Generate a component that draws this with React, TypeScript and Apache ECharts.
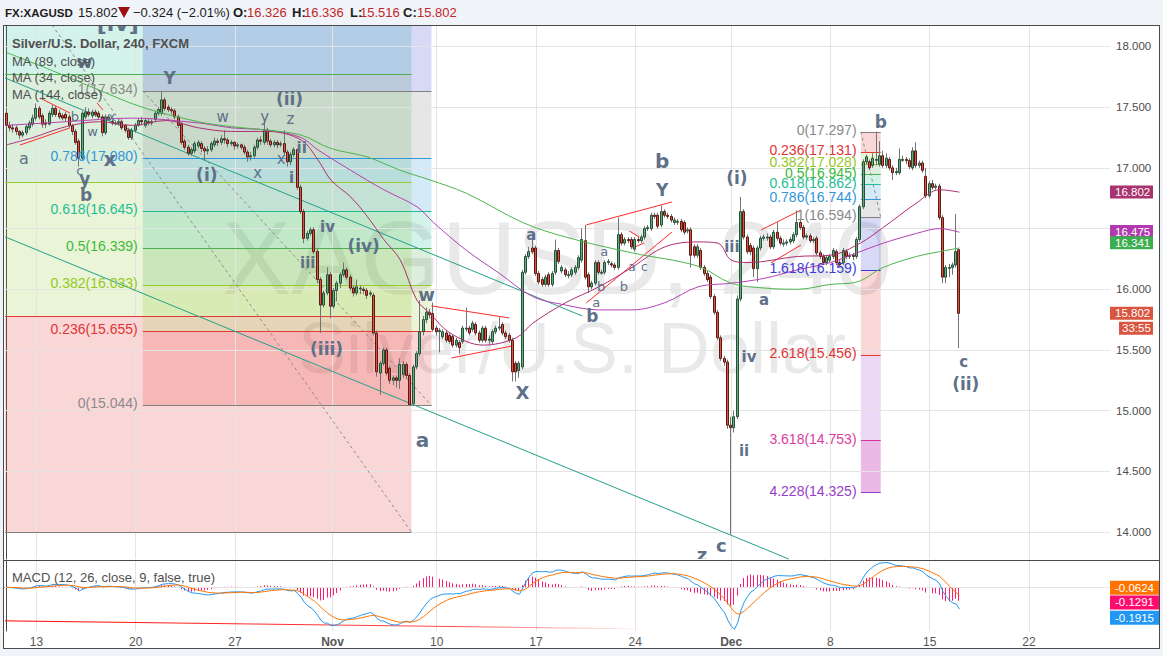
import React, { useEffect, useRef } from "react";
import * as echarts from "echarts";

// ---------- 4h candles [open, close, low, high] ----------
const wk0 = [
  [17.45,17.35,17.32,17.48],[17.35,17.33,17.30,17.38],[17.33,17.32,17.29,17.36],[17.33,17.30,17.27,17.35],
  [17.30,17.27,17.24,17.31],[17.27,17.29,17.25,17.31],[17.29,17.34,17.27,17.36],[17.33,17.37,17.31,17.39],
  [17.36,17.41,17.34,17.44],
];
const wk1 = [
  [17.41,17.49,17.39,17.53],[17.49,17.42,17.40,17.51],[17.43,17.36,17.33,17.45],[17.37,17.36,17.33,17.40],
  [17.36,17.45,17.35,17.47],[17.44,17.49,17.42,17.52],[17.49,17.44,17.42,17.51],[17.45,17.42,17.40,17.48],
  [17.43,17.41,17.39,17.45],[17.44,17.41,17.38,17.46],[17.42,17.35,17.33,17.44],[17.35,17.30,17.27,17.36],
  [17.30,17.21,17.19,17.32],[17.22,17.08,17.01,17.24],[17.08,17.45,17.06,17.47],[17.42,17.46,17.40,17.50],
  [17.46,17.44,17.42,17.49],[17.43,17.46,17.41,17.48],[17.46,17.44,17.42,17.48],[17.45,17.42,17.40,17.47],
  [17.42,17.29,17.26,17.44],[17.29,17.42,17.27,17.44],[17.40,17.42,17.39,17.44],[17.38,17.37,17.35,17.40],
  [17.37,17.37,17.35,17.39],[17.37,17.38,17.35,17.40],[17.38,17.33,17.31,17.40],[17.35,17.31,17.29,17.36],
  [17.31,17.25,17.23,17.33],[17.25,17.31,17.23,17.33],
];
const wk2 = [
  [17.31,17.35,17.29,17.37],[17.35,17.39,17.34,17.41],[17.39,17.38,17.35,17.42],[17.35,17.39,17.33,17.41],
  [17.38,17.37,17.35,17.41],[17.37,17.38,17.35,17.40],[17.40,17.45,17.38,17.47],[17.45,17.48,17.43,17.50],
  [17.45,17.56,17.43,17.63],[17.56,17.49,17.47,17.58],[17.50,17.48,17.46,17.52],[17.48,17.47,17.44,17.50],
  [17.47,17.42,17.40,17.49],[17.42,17.35,17.33,17.44],[17.36,17.21,17.19,17.38],[17.22,17.17,17.15,17.24],
  [17.17,17.12,17.10,17.19],[17.12,17.15,17.10,17.17],[17.14,17.20,17.12,17.22],[17.18,17.21,17.16,17.23],
  [17.20,17.16,17.13,17.22],[17.16,17.14,17.06,17.18],[17.14,17.15,17.11,17.18],[17.15,17.20,17.13,17.22],
  [17.19,17.22,17.17,17.25],[17.22,17.21,17.18,17.24],[17.21,17.24,17.19,17.27],[17.24,17.23,17.20,17.31],
  [17.23,17.20,17.17,17.25],[17.20,17.21,17.18,17.23],
];
const wk3 = [
  [17.21,17.18,17.15,17.22],[17.18,17.19,17.16,17.21],[17.19,17.17,17.15,17.20],[17.17,17.13,17.11,17.19],
  [17.13,17.09,17.05,17.15],[17.09,17.10,17.06,17.13],[17.10,17.17,17.08,17.19],[17.17,17.23,17.15,17.25],
  [17.23,17.22,17.19,17.26],[17.21,17.31,17.19,17.38],[17.31,17.22,17.19,17.33],[17.22,17.19,17.17,17.24],
  [17.19,17.21,17.17,17.23],[17.21,17.19,17.16,17.23],[17.19,17.20,17.17,17.22],[17.20,17.13,17.10,17.31],
  [17.13,17.05,17.01,17.15],[17.05,17.11,17.02,17.13],[17.11,17.15,17.09,17.17],[17.15,16.84,16.82,17.16],
  [16.84,16.64,16.62,16.86],[16.64,16.42,16.38,16.66],[16.42,16.46,16.40,16.48],[16.46,16.49,16.44,16.51],
  [16.49,16.31,16.29,16.51],[16.31,16.08,16.05,16.33],[16.08,15.87,15.64,16.10],[15.87,15.97,15.85,15.99],
  [15.97,16.12,15.95,16.18],[16.12,15.86,15.76,16.14],
];
const wk4 = [
  [15.86,15.99,15.84,16.01],[15.99,16.05,15.90,16.07],[16.05,16.12,16.01,16.14],[16.12,16.16,16.10,16.22],
  [16.16,16.10,16.08,16.18],[16.10,16.01,15.99,16.12],[16.01,15.97,15.94,16.03],[15.97,16.02,15.95,16.08],
  [16.01,16.01,15.96,16.03],[16.00,15.99,15.96,16.02],[15.99,15.95,15.92,16.01],[15.96,15.97,15.94,15.99],
  [15.95,15.64,15.62,15.97],[15.64,15.32,15.28,15.66],[15.31,15.39,15.13,15.41],[15.39,15.50,15.37,15.52],
  [15.50,15.31,15.29,15.52],[15.35,15.25,15.22,15.37],[15.25,15.27,15.21,15.29],[15.27,15.25,15.19,15.29],
  [15.25,15.38,15.18,15.43],[15.30,15.38,15.27,15.41],[15.38,15.29,15.26,15.40],[15.29,15.05,15.044,15.31],
  [15.06,15.36,15.05,15.38],[15.36,15.47,15.34,15.49],[15.47,15.65,15.45,15.91],[15.65,15.75,15.62,15.78],
  [15.75,15.81,15.72,15.85],[15.81,15.79,15.76,15.84],
];
const wk5 = [
  [15.80,15.67,15.65,15.89],[15.68,15.65,15.62,15.70],[15.65,15.66,15.48,15.68],[15.61,15.65,15.59,15.67],
  [15.64,15.58,15.56,15.66],[15.62,15.57,15.55,15.64],[15.61,15.54,15.52,15.63],[15.54,15.58,15.52,15.60],
  [15.56,15.52,15.47,15.58],[15.57,15.68,15.55,15.70],[15.68,15.68,15.65,15.85],[15.68,15.64,15.62,15.70],
  [15.67,15.72,15.65,15.74],[15.71,15.64,15.62,15.73],[15.64,15.58,15.56,15.66],[15.58,15.68,15.56,15.70],
  [15.68,15.58,15.56,15.70],[15.58,15.59,15.55,15.62],[15.57,15.65,15.55,15.67],[15.65,15.68,15.63,15.70],
  [15.68,15.69,15.66,15.77],[15.71,15.64,15.62,15.73],[15.64,15.61,15.59,15.66],[15.62,15.58,15.56,15.64],
  [15.58,15.32,15.24,15.60],[15.39,15.32,15.24,15.41],[15.33,15.39,15.27,15.41],[15.36,16.14,15.34,16.16],
  [16.14,16.27,16.12,16.29],[16.27,16.31,16.25,16.35],
];
const wk6 = [
  [16.34,16.31,16.29,16.45],[16.34,16.13,16.11,16.36],[16.13,16.06,16.04,16.15],[16.08,16.04,16.02,16.10],
  [16.04,16.10,16.02,16.12],[16.12,16.04,16.02,16.14],[16.04,16.13,16.02,16.15],[16.14,16.32,16.12,16.41],
  [16.32,16.23,16.21,16.34],[16.15,16.18,16.13,16.20],[16.16,16.12,16.10,16.18],[16.12,16.12,16.09,16.15],
  [16.12,16.16,16.10,16.18],[16.14,16.18,16.12,16.20],[16.18,16.26,16.16,16.28],[16.24,16.41,16.22,16.50],
  [16.40,16.10,16.08,16.53],[16.12,16.02,15.97,16.14],[16.02,16.05,16.00,16.07],[16.05,16.22,16.03,16.24],
  [16.22,16.14,16.12,16.24],[16.14,16.14,16.12,16.16],[16.14,16.22,16.12,16.24],[16.22,16.23,16.20,16.25],
  [16.21,16.20,16.18,16.23],[16.20,16.18,16.16,16.22],[16.18,16.45,16.16,16.59],[16.45,16.38,16.36,16.47],
  [16.38,16.41,16.36,16.43],[16.41,16.40,16.38,16.43],
];
const wk7 = [
  [16.41,16.35,16.33,16.43],[16.33,16.41,16.31,16.43],[16.41,16.40,16.38,16.43],[16.40,16.43,16.38,16.45],
  [16.43,16.50,16.41,16.52],[16.50,16.51,16.48,16.53],[16.50,16.61,16.48,16.63],[16.61,16.60,16.58,16.63],
  [16.61,16.52,16.50,16.63],[16.53,16.64,16.51,16.69],[16.64,16.61,16.59,16.66],[16.61,16.60,16.58,16.63],
  [16.60,16.57,16.55,16.62],[16.55,16.57,16.53,16.59],[16.56,16.56,16.53,16.58],[16.56,16.49,16.47,16.58],
  [16.55,16.47,16.45,16.57],[16.48,16.49,16.46,16.51],[16.49,16.28,16.18,16.51],[16.35,16.28,16.26,16.37],
  [16.28,16.35,16.26,16.37],[16.32,16.18,16.16,16.34],[16.18,16.13,16.11,16.20],[16.13,16.08,16.06,16.15],
  [16.10,15.94,15.92,16.12],[15.94,15.81,15.79,15.96],[15.81,15.60,15.58,15.83],[15.60,15.43,15.41,15.62],
  [15.43,15.40,15.37,15.45],[15.40,14.88,14.85,15.42],
];
const wk8 = [
  [14.88,14.86,13.98,14.95],[14.86,14.95,14.82,15.00],[14.95,15.92,14.93,15.95],[15.92,16.64,15.90,16.76],
  [16.64,16.43,16.41,16.66],[16.43,16.31,16.29,16.45],[16.36,16.31,16.28,16.38],[16.34,16.17,16.10,16.36],
  [16.17,16.34,16.06,16.36],[16.34,16.42,16.32,16.44],[16.42,16.43,16.40,16.45],[16.43,16.43,16.40,16.46],
  [16.43,16.35,16.33,16.45],[16.35,16.47,16.33,16.49],[16.47,16.42,16.40,16.55],[16.42,16.38,16.36,16.44],
  [16.38,16.38,16.35,16.41],[16.38,16.39,16.36,16.41],[16.39,16.41,16.37,16.43],[16.40,16.45,16.38,16.47],
  [16.45,16.55,16.43,16.65],[16.55,16.51,16.49,16.57],[16.51,16.43,16.41,16.53],[16.43,16.44,16.41,16.46],
  [16.44,16.40,16.38,16.46],[16.40,16.41,16.38,16.43],[16.42,16.30,16.28,16.44],[16.30,16.27,16.25,16.32],
  [16.27,16.22,16.20,16.29],[16.22,16.26,16.20,16.28],
];
const wk9 = [
  [16.24,16.27,16.22,16.29],[16.27,16.32,16.25,16.34],[16.31,16.22,16.20,16.33],[16.22,16.20,16.18,16.24],
  [16.22,16.32,16.20,16.34],[16.31,16.27,16.25,16.33],[16.27,16.28,16.25,16.30],[16.28,16.27,16.24,16.30],
  [16.27,16.41,16.25,16.43],[16.41,16.68,16.39,16.70],[16.68,17.05,16.66,17.07],[17.05,17.09,17.03,17.11],
  [17.05,17.00,16.98,17.07],[17.02,17.08,17.00,17.12],[17.07,17.07,17.02,17.297],[17.03,17.10,17.01,17.22],
  [17.10,17.02,17.00,17.14],[17.02,17.08,17.00,17.12],[17.07,17.00,16.98,17.09],[17.00,16.96,16.90,17.02],
  [16.96,16.97,16.94,17.00],[16.96,17.07,16.94,17.16],[17.07,17.07,17.05,17.10],[17.07,17.06,17.03,17.09],
  [17.06,17.01,16.99,17.08],[17.00,17.14,16.98,17.17],[17.14,17.02,17.00,17.21],[17.02,17.04,17.00,17.06],
  [17.04,16.98,16.96,17.06],[16.93,16.77,16.75,17.00],
];
const wk10 = [
  [16.77,16.87,16.75,16.89],[16.87,16.84,16.82,16.90],[16.84,16.85,16.82,16.87],[16.85,16.59,16.57,16.87],
  [16.59,16.10,16.05,16.61],[16.10,16.18,16.05,16.20],[16.18,16.18,16.10,16.21],[16.18,16.20,16.12,16.22],
  [16.20,16.31,16.18,16.62],[16.326,15.802,15.516,16.336],
];
const candles = [...wk0, ...wk1, ...wk2, ...wk3, ...wk4, ...wk5, ...wk6, ...wk7, ...wk8, ...wk9, ...wk10];
const closes = candles.map((c) => c[1]);

// ---------- moving averages: [barIndex, value] ----------
const ma34 = [[0,17.19],[8,17.25],[18,17.34],[28,17.38],[38,17.35],[48,17.39],[58,17.33],[68,17.30],[79,17.30],[89,17.23],[94,17.07],[98,16.90],[104,16.76],[109,16.60],[114,16.41],[119,16.24],[124,15.91],[128,15.80],[134,15.64],[144,15.54],[154,15.60],[159,15.72],[169,15.89],[179,16.02],[189,16.18],[199,16.35],[209,16.39],[215,16.38],[219,16.24],[224,16.22],[239,16.27],[249,16.28],[258,16.38],[265,16.51],[275,16.71],[282,16.82],[288,16.80]];
const ma89 = [[0,17.35],[18,17.38],[38,17.41],[58,17.37],[68,17.33],[79,17.31],[89,17.25],[94,17.15],[104,16.98],[114,16.82],[124,16.68],[129,16.55],[139,16.32],[149,16.13],[159,15.94],[169,15.87],[179,15.83],[189,15.83],[199,15.89],[209,16.02],[219,16.05],[229,16.09],[239,16.16],[249,16.22],[257,16.30],[265,16.38],[275,16.46],[282,16.50],[288,16.47]];
const ma144 = [[0,17.95],[13,17.81],[28,17.64],[41,17.50],[58,17.38],[68,17.34],[79,17.31],[89,17.27],[98,17.16],[109,17.09],[119,16.98],[128,16.90],[139,16.79],[156,16.55],[169,16.43],[189,16.30],[209,16.19],[219,16.05],[229,16.01],[239,16.00],[249,16.04],[257,16.06],[265,16.18],[275,16.27],[282,16.31],[288,16.34]];

// ---------- axes ----------
const priceTicks = [14, 14.5, 15, 15.5, 16, 16.5, 17, 17.5, 18];
const dateTickPos = [9, 39, 69, 98.5, 130, 160, 190, 219, 249, 279, 309];
const dateTickLabels = ["13", "20", "27", "Nov", "10", "17", "24", "Dec", "8", "15", "22"];
const boldDateLabels = ["Nov", "Dec"];

// ---------- fibonacci tools: [ratio, price, colorKey] ----------
const fibLeftLevels = [[0,15.044,"gray"],[0.236,15.655,"red"],[0.382,16.033,"yg"],[0.5,16.339,"green"],[0.618,16.645,"teal"],[0.786,17.080,"blue"],[1,17.634,"gray"],[1.618,19.235,"indigo"]];
const fibBackLevels = [[0,14.0,"gray"],[0.236,15.78,"red"],[0.382,16.88,"yg"],[0.5,17.77,"green"],[0.618,18.66,"teal"]];
const fibRightLevels = [[0,17.297,"gray"],[0.236,17.131,"red"],[0.382,17.028,"yg"],[0.5,16.945,"green"],[0.618,16.862,"teal"],[0.786,16.744,"blue"],[1,16.594,"gray"],[1.618,16.159,"indigo"],[2.618,15.456,"red"],[3.618,14.753,"pink"],[4.228,14.325,"purple"]];

// ---------- wave labels: [text, barIndex, price, size, bold] ----------
const waveLabels = [
  ["a",5.2,17.08,16,0],["b",20.6,17.42,13,0],["c",22.1,16.98,13,0],["y",23.6,16.91,17,1],["b",24.0,16.78,17,1],
  ["x",31.2,17.07,20,1],["w",26.0,17.30,13,0],["x",31.8,17.42,12,0],["w",23.6,17.87,17,1],["[iv]",33.6,18.19,22,1],
  ["Y",49.3,17.74,17,1],["(ii)",85.5,17.57,17,1],["w",65.3,17.42,15,0],["y",78.0,17.42,15,0],["z",85.8,17.40,15,0],
  ["(i)",60.5,16.94,17,1],["x",75.9,16.96,15,0],["x",83.0,17.07,15,0],["ii",89.2,17.16,15,1],["i",86.1,16.92,15,1],
  ["iv",97.0,16.51,15,1],["(iv)",107.9,16.36,17,1],["iii",91.0,16.22,15,1],["(iii)",96.7,15.51,17,1],
  ["w",126.9,15.96,18,1],["a",125.7,14.76,20,1],["X",155.9,15.15,18,1],["a",158.6,16.45,15,1],
  ["a",180.6,16.31,13,0],["b",179.7,16.02,13,0],["b",186.6,16.02,13,0],["a",178.2,15.89,13,0],["b",177.0,15.78,17,1],
  ["a",189.0,16.18,12,0],["c",192.7,16.18,12,0],["b",198.1,17.06,20,1],["Y",198.1,16.82,17,1],
  ["(i)",220.7,16.92,17,1],["iii",219.2,16.35,15,1],["a",228.9,15.91,15,1],["iv",224.4,15.44,15,1],["ii",222.9,14.67,15,1],
  ["c",216.0,13.89,18,1],["z",210.2,13.815,18,1],["b",264.2,17.38,17,1],["c",289.3,15.40,15,1],["(ii)",289.9,15.22,17,1],
];

// ---------- trend lines: [i1, p1, i2, p2, kind] ----------
const trendLines = [
  [-0.5,17.741,173.96,15.780,"teal"],
  [-0.5,16.432,236.4,13.778,"teal"],
  [13.7,18.177,122.35,14.0,"dash"],
  [41.15,17.634,128.4,15.044,"dash"],
  [258.2,17.297,264.2,16.594,"dash"],
  [10.1,17.575,19.1,17.452,"red"],
  [4.0,17.188,19.1,17.329,"red"],
  [27.3,17.535,29.1,17.477,"red"],
  [128.4,15.863,151.9,15.764,"red"],
  [134.4,15.434,152.8,15.533,"red"],
  [175.2,16.530,201.1,16.719,"red"],
  [175.2,15.887,201.1,16.472,"red"],
  [188.2,16.480,191.2,16.431,"red"],
  [189.1,16.340,192.7,16.381,"red"],
  [228.0,16.488,240.1,16.653,"red"],
  [231.0,16.217,240.1,16.365,"red"],
];

// ---------- last-value badges ----------
const priceBadges = [["16.802",16.802,"#a8336e",0],["16.475",16.475,"#b13aae",0],["16.341",16.341,"#3dae4f",-5],["15.802",15.802,"#d9553f",0]];
const countdown = ["33:55", 15.802, "#d9553f", 15];
const macdBadges = [["-0.0624",-0.0624,"#ff7400",-7],["-0.1291",-0.1291,"#ff0b6e",0],["-0.1915",-0.1915,"#2196f3",8]];

// ---------- styling ----------
const RGB: any = {
  gray: [128,128,128], red: [229,57,53], yg: [152,200,50], green: [76,175,80], teal: [31,191,149],
  blue: [47,150,216], indigo: [58,58,216], pink: [216,54,156], purple: [154,59,200],
};
const TXT: any = {
  gray: "#8a8a8a", red: "#e03434", yg: "#94c828", green: "#3cba3c", teal: "#23be96",
  blue: "#3296d7", indigo: "#3c3cd7", pink: "#dc3ca0", purple: "#963cc8",
};
const rgba = (k: string, a: number) => `rgba(${RGB[k][0]},${RGB[k][1]},${RGB[k][2]},${a})`;
const SANS = '"Liberation Sans", Arial, sans-serif';
const LBL = '"DejaVu Sans", Verdana, sans-serif';
const N_SLOTS = 334;

function ema(src: number[], n: number) {
  const k = 2 / (n + 1);
  let prev = src[0];
  return src.map((v, i) => (prev = i === 0 ? v : v * k + prev * (1 - k)));
}

function buildOption() {
  const e12 = ema(closes, 12);
  const e26 = ema(closes, 26);
  const macd = closes.map((_, i) => e12[i] - e26[i]);
  const signal = ema(macd, 9);
  const hist = macd.map((m, i) => m - signal[i]);

  const bands = (levels: any[], x1: number, x2: number, override?: any) =>
    levels.slice(0, -1).map((lv, k) => {
      const nx = levels[k + 1];
      const color = override && override[k] ? override[k] : rgba(nx[2], 0.2);
      return [{ coord: [x1, Math.min(lv[1], nx[1])], itemStyle: { color } }, { coord: [x2, Math.max(lv[1], nx[1])] }];
    });
  const levelLines = (levels: any[], x1: number, x2: number) =>
    levels.map((lv) => [{ coord: [x1, lv[1]], lineStyle: { color: rgba(lv[2], 1), width: 1, type: "solid" } }, { coord: [x2, lv[1]] }]);

  const fibAX = [41.15, 128.4];
  const fibBX = [-0.5, 122.35];
  const fibCX = [258.2, 264.2];

  const fibTexts: any[] = [];
  fibLeftLevels.forEach((lv) => fibTexts.push([`${lv[0]}(${(lv[1] as number).toFixed(3)})`, 39.6, lv[1], TXT[lv[2] as string]]));
  fibRightLevels.forEach((lv) => fibTexts.push([`${lv[0]}(${(lv[1] as number).toFixed(3)})`, 256.9, lv[1], TXT[lv[2] as string]]));

  const trendData = trendLines.map((t) => {
    const kind = t[4];
    const ls =
      kind === "teal" ? { color: "#22a08a", width: 1, type: "solid" } :
      kind === "red" ? { color: "#ff2a2a", width: 1, type: "solid" } :
      { color: "#8c8c8c", width: 1, type: [3, 3] };
    return [{ coord: [t[0], t[1]], lineStyle: ls }, { coord: [t[2], t[3]] }];
  });

  const gridLineStyle = { color: "#e4e4e4", width: 1, type: "solid" };
  const noLabel = { show: false };

  const textSeries = (items: any[], render: (it: any, p: number[]) => any, xi: number, yi: number, z: number, clip: boolean) => ({
    type: "custom", xAxisIndex: xi, yAxisIndex: yi, z, clip, silent: true,
    data: items.map((it) => [it[1], it[2]]),
    encode: { x: 0, y: 1 },
    renderItem: (params: any, api: any) => {
      const p = api.coord([api.value(0), api.value(1)]);
      return render(items[params.dataIndex], p);
    },
  });

  const helper = (xi: number, yi: number, z: number, extra: any) => ({
    type: "line", xAxisIndex: xi, yAxisIndex: yi, data: [[-100, -100]], showSymbol: false,
    lineStyle: { opacity: 0 }, z, silent: true, ...extra,
  });

  const series: any[] = [
    helper(0, 0, 1, {
      markLine: {
        silent: true, symbol: ["none", "none"], label: noLabel, lineStyle: gridLineStyle, animation: false,
        data: [...priceTicks.map((v) => ({ yAxis: v })), ...dateTickPos.map((v) => ({ xAxis: v }))],
      },
    }),
    helper(1, 1, 1, {
      markLine: {
        silent: true, symbol: ["none", "none"], label: noLabel, lineStyle: gridLineStyle, animation: false,
        data: [{ yAxis: 0 }, ...dateTickPos.map((v) => ({ xAxis: v }))],
      },
    }),
    helper(0, 0, 2, {
      markArea: {
        silent: true, label: noLabel, animation: false,
        data: [
          ...bands(fibBackLevels, fibBX[0], fibBX[1]),
          ...bands(fibLeftLevels, fibAX[0], fibAX[1]),
          ...bands(fibRightLevels, fibCX[0], fibCX[1], { 8: "rgba(150,60,205,0.2)", 9: "rgba(200,70,190,0.38)" }),
        ],
      },
    }),
    helper(0, 0, 3, {
      markLine: {
        silent: true, symbol: ["none", "none"], label: noLabel, animation: false,
        data: [
          ...levelLines(fibBackLevels, fibBX[0], fibBX[1]),
          ...levelLines(fibLeftLevels, fibAX[0], fibAX[1]),
          ...levelLines(fibRightLevels, fibCX[0], fibCX[1]),
          ...trendData,
        ],
      },
    }),
    // candles
    {
      type: "custom", xAxisIndex: 0, yAxisIndex: 0, z: 5, clip: true, silent: true,
      data: candles.map((c, i) => [i, c[0], c[1], c[2], c[3]]),
      encode: { x: 0, y: [1, 2, 3, 4] },
      renderItem: (params: any, api: any) => {
        const i = api.value(0);
        const o = api.value(1), c = api.value(2), l = api.value(3), h = api.value(4);
        const x = api.coord([i, o])[0];
        const yo = api.coord([i, o])[1], yc = api.coord([i, c])[1];
        const yl = api.coord([i, l])[1], yh = api.coord([i, h])[1];
        const up = c >= o;
        const top = Math.min(yo, yc);
        const bh = Math.max(Math.abs(yc - yo), 1);
        const rx = Math.round(x);
        return {
          type: "group",
          children: [
            { type: "line", shape: { x1: rx - 0.5, y1: yh, x2: rx - 0.5, y2: yl }, style: { stroke: "#737375", lineWidth: 1 } },
            { type: "rect", shape: { x: rx - 1.5, y: top, width: 2, height: bh },
              style: { fill: up ? "#6ba583" : "#d75442", stroke: up ? "#225437" : "#5b1a13", lineWidth: 1 } },
          ],
        };
      },
    },
    // moving averages
    { type: "line", xAxisIndex: 0, yAxisIndex: 0, data: ma89, showSymbol: false, smooth: 0.35, z: 6, silent: true, lineStyle: { color: "#b640b4", width: 1 } },
    { type: "line", xAxisIndex: 0, yAxisIndex: 0, data: ma34, showSymbol: false, smooth: 0.35, z: 6, silent: true, lineStyle: { color: "#ad2f74", width: 1 } },
    { type: "line", xAxisIndex: 0, yAxisIndex: 0, data: ma144, showSymbol: false, smooth: 0.35, z: 6, silent: true, lineStyle: { color: "#4cb54c", width: 1 } },
    // fib texts
    textSeries(fibTexts, (it, p) => ({
      type: "text", x: p[0], y: p[1] - 2,
      style: { text: it[0], fill: it[3], font: `14px ${SANS}`, align: "right", verticalAlign: "middle", textAlign: "right", textVerticalAlign: "middle" },
    }), 0, 0, 8, true),
    // wave labels
    textSeries(waveLabels, (it, p) => ({
      type: "text", x: p[0], y: p[1],
      style: { text: it[0], fill: "#5f7089", font: `${it[4] ? "bold " : ""}${it[3]}px ${LBL}`, align: "center", verticalAlign: "middle", textAlign: "center", textVerticalAlign: "middle" },
    }), 0, 0, 10, true),
    // price badges
    textSeries([...priceBadges, countdown].map((b) => [b, N_SLOTS - 0.5, b[1]]), (it, p) => {
      const b = it[0];
      const isCd = b[0] === "33:55";
      const y = p[1] + b[3];
      const x0 = isCd ? p[0] + 9 : p[0];
      const w = isCd ? 34 : 43;
      return {
        type: "group", children: [
          { type: "rect", shape: { x: x0, y: y - 6.5, width: w, height: 13 }, style: { fill: b[2] } },
          { type: "text", x: x0 + (isCd ? 3 : 5), y: y, style: { text: b[0], fill: "#ffffff", font: `11.5px ${SANS}`, verticalAlign: "middle", textVerticalAlign: "middle" } },
        ],
      };
    }, 0, 0, 30, false),
    // MACD histogram
    {
      type: "custom", xAxisIndex: 1, yAxisIndex: 1, z: 4, clip: true, silent: true,
      data: hist.map((v, i) => [i, v]),
      encode: { x: 0, y: 1 },
      renderItem: (params: any, api: any) => {
        const p0 = api.coord([api.value(0), 0]);
        const p1 = api.coord([api.value(0), api.value(1)]);
        const rx = Math.round(p0[0]) - 0.5;
        return { type: "line", shape: { x1: rx, y1: p0[1], x2: rx, y2: p1[1] }, style: { stroke: "#ff1a72", lineWidth: 1 } };
      },
    },
    { type: "line", xAxisIndex: 1, yAxisIndex: 1, data: macd.map((v, i) => [i, v]), showSymbol: false, z: 5, silent: true, lineStyle: { color: "#2196f3", width: 1 } },
    { type: "line", xAxisIndex: 1, yAxisIndex: 1, data: signal.map((v, i) => [i, v]), showSymbol: false, z: 5, silent: true, lineStyle: { color: "#ff7400", width: 1 } },
    helper(1, 1, 3, {
      markLine: {
        silent: true, symbol: ["none", "none"], label: noLabel, animation: false,
        data: [[{ coord: [-0.5, -0.287], lineStyle: { width: 1, type: "solid", color: new echarts.graphic.LinearGradient(0, 0, 1, 0, [
          { offset: 0, color: "rgba(255,0,0,1)" }, { offset: 0.7, color: "rgba(255,0,0,0.7)" }, { offset: 1, color: "rgba(255,0,0,0)" }]) } },
          { coord: [194, -0.357] }]],
      },
    }),
    textSeries(macdBadges.map((b) => [b, N_SLOTS - 0.5, b[1]]), (it, p) => {
      const b = it[0];
      const y = p[1] + b[3];
      return {
        type: "group", children: [
          { type: "rect", shape: { x: p[0], y: y - 7, width: 50, height: 14 }, style: { fill: b[2] } },
          { type: "text", x: p[0] + 5, y: y, style: { text: b[0], fill: "#ffffff", font: `11.5px ${SANS}`, verticalAlign: "middle", textVerticalAlign: "middle" } },
        ],
      };
    }, 1, 1, 30, false),
  ];

  const headerY = 12.5;
  const hdr = (text: string, x: number, bold: boolean, color: string, size = 13) => ({
    type: "text", x, y: headerY, z: 101,
    style: { text, fill: color, font: `${bold ? "bold " : ""}${size}px ${SANS}`, verticalAlign: "middle", textVerticalAlign: "middle" },
  });
  const legend = (text: string, y: number, bold: boolean) => ({
    type: "text", x: 12, y, z: 60,
    style: { text, fill: "#4f4f4f", font: `${bold ? "bold " : ""}13px ${SANS}`, verticalAlign: "middle", textVerticalAlign: "middle" },
  });
  const frameLine = (x1: number, y1: number, x2: number, y2: number) => ({
    type: "line", z: 102, shape: { x1, y1, x2, y2 }, style: { stroke: "#4a4a4a", lineWidth: 1 },
  });

  const graphic: any[] = [
    { type: "text", x: 557, y: 258, z: 0, silent: true, style: { text: "XAGUSD, 240", fill: "rgba(0,0,0,0.085)", font: `104px ${SANS}`, align: "center", verticalAlign: "middle", textAlign: "center", textVerticalAlign: "middle" } },
    { type: "text", x: 572, y: 348, z: 0, silent: true, style: { text: "Silver/U.S. Dollar", fill: "rgba(0,0,0,0.085)", font: `72px ${SANS}`, align: "center", verticalAlign: "middle", textAlign: "center", textVerticalAlign: "middle" } },
    { type: "rect", z: 100, shape: { x: 0, y: 0, width: 1163, height: 25 }, style: { fill: "#f0f3f8" } },
    { type: "rect", z: 100, shape: { x: 0, y: 649, width: 1163, height: 7 }, style: { fill: "#f0f3f8" } },
    { type: "rect", z: 100, shape: { x: 0, y: 25, width: 3, height: 631 }, style: { fill: "#f0f3f8" } },
    { type: "rect", z: 100, shape: { x: 1160, y: 25, width: 3, height: 631 }, style: { fill: "#f0f3f8" } },
    frameLine(3, 25.5, 1160, 25.5),
    frameLine(3.5, 25, 3.5, 649),
    frameLine(1159.5, 25, 1159.5, 649),
    frameLine(3, 648.5, 1160, 648.5),
    frameLine(3, 560.5, 1160, 560.5),
    hdr("FX:XAGUSD", 5, true, "#1c1c1c", 11.5),
    hdr("15.802", 78, false, "#1c1c1c"),
    { type: "polygon", z: 101, shape: { points: [[118, 7], [130, 7], [124, 18]] }, style: { fill: "#9b1010" } },
    hdr("\u22120.324 (\u22122.01%)", 133, false, "#1c1c1c"),
    hdr("O:", 233, true, "#1c1c1c"), hdr("16.326", 247, false, "#c42626"),
    hdr("H:", 292, true, "#1c1c1c"), hdr("16.336", 304, false, "#c42626"),
    hdr("L:", 350, true, "#1c1c1c"), hdr("15.516", 360, false, "#c42626"),
    hdr("C:", 403, true, "#1c1c1c"), hdr("15.802", 417, false, "#c42626"),
    legend("Silver/U.S. Dollar, 240, FXCM", 43, true),
    legend("MA (89, close)", 61, false),
    legend("MA (34, close)", 77, false),
    legend("MA (144, close)", 94, false),
    legend("MACD (12, 26, close, 9, false, true)", 577, false),
  ];

  return {
    animation: false,
    backgroundColor: "#ffffff",
    grid: [
      { left: 5, right: 53, top: 25, height: 534, containLabel: false },
      { left: 5, right: 53, top: 561, height: 70, containLabel: false },
    ],
    xAxis: [
      { type: "value", gridIndex: 0, position: "bottom", min: -0.5, max: N_SLOTS - 0.5, show: false },
      {
        type: "value", gridIndex: 1, position: "bottom", min: -0.5, max: N_SLOTS - 0.5,
        axisLine: { show: true, lineStyle: { color: "#4a4a4a" } },
        axisTick: { show: false }, splitLine: { show: false },
        axisLabel: {
          show: true, customValues: dateTickPos, color: "#555", fontSize: 12, fontFamily: SANS, margin: 5,
          formatter: (v: number) => {
            const k = dateTickPos.indexOf(v);
            const t = k >= 0 ? dateTickLabels[k] : "";
            return boldDateLabels.includes(t) ? `{b|${t}}` : t;
          },
          rich: { b: { fontWeight: "bold", color: "#555", fontSize: 12, fontFamily: SANS } },
        },
      },
    ],
    yAxis: [
      {
        type: "value", gridIndex: 0, position: "right", min: 13.778, max: 18.177,
        axisLine: { show: true, lineStyle: { color: "#4a4a4a" } },
        axisTick: { show: true, length: 4, customValues: priceTicks, lineStyle: { color: "#4a4a4a" } },
        splitLine: { show: false },
        axisLabel: { show: true, customValues: priceTicks, formatter: (v: number) => v.toFixed(3), color: "#4d4d4d", fontSize: 11.5, fontFamily: SANS, margin: 6 },
      },
      {
        type: "value", gridIndex: 1, position: "right", min: -0.374, max: 0.226,
        axisLine: { show: true, lineStyle: { color: "#4a4a4a" } },
        axisTick: { show: false }, splitLine: { show: false }, axisLabel: { show: false },
      },
    ],
    series,
    graphic,
  };
}

export default function App() {
  const ref = useRef<HTMLDivElement>(null);
  useEffect(() => {
    const chart = echarts.init(ref.current as HTMLDivElement, null, { renderer: "svg" });
    chart.setOption(buildOption() as any);
    return () => chart.dispose();
  }, []);
  return <div ref={ref} style={{ position: "fixed", left: 0, top: 0, width: 1163, height: 656 }} />;
}
